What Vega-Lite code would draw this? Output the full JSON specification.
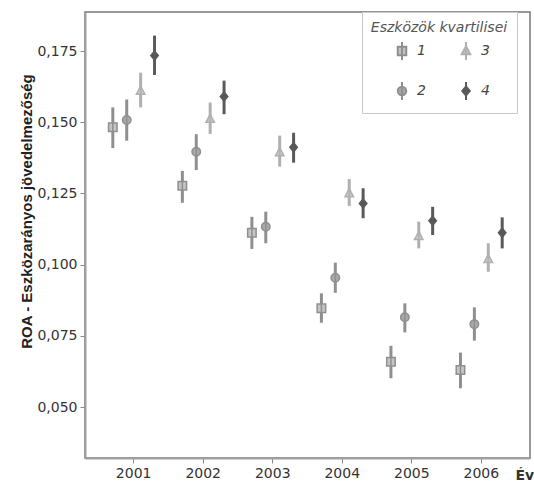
{
  "$schema": "https://vega.github.io/schema/vega-lite/v6.json",
  "width": 445,
  "height": 446,
  "autosize": {"type": "none"},
  "padding": {"left": 85, "top": 12, "right": 4, "bottom": 24},
  "background": "white",
  "config": {
    "view": {"stroke": "#777", "strokeWidth": 1.5},
    "font": "DejaVu Sans",
    "legend": {
      "orient": "none",
      "legendX": 277,
      "legendY": 0,
      "columns": 2,
      "fillColor": "white",
      "strokeColor": "#c8c8c8",
      "padding": 9,
      "titleFontStyle": "italic",
      "titleFontWeight": "normal",
      "titleFontSize": 14,
      "titleColor": "#555",
      "titleAnchor": "middle",
      "titlePadding": 9,
      "labelFontStyle": "italic",
      "labelFontSize": 14,
      "labelColor": "#444",
      "symbolSize": 100,
      "symbolStrokeWidth": 2,
      "columnPadding": 27,
      "rowPadding": 14,
      "labelOffset": 8,
      "symbolOffset": 6
    }
  },
  "data": {
    "values": [
      {"year": "2001", "q": "1", "mean": 0.1482, "lo": 0.1409, "hi": 0.1552},
      {"year": "2001", "q": "2", "mean": 0.1508, "lo": 0.1435, "hi": 0.158},
      {"year": "2001", "q": "3", "mean": 0.161, "lo": 0.1552, "hi": 0.1674},
      {"year": "2001", "q": "4", "mean": 0.1734, "lo": 0.1666, "hi": 0.1804},
      {"year": "2002", "q": "1", "mean": 0.1277, "lo": 0.1217, "hi": 0.1329},
      {"year": "2002", "q": "2", "mean": 0.1396, "lo": 0.1332, "hi": 0.1458},
      {"year": "2002", "q": "3", "mean": 0.1511, "lo": 0.1459, "hi": 0.1569},
      {"year": "2002", "q": "4", "mean": 0.159, "lo": 0.1528, "hi": 0.1646},
      {"year": "2003", "q": "1", "mean": 0.1112, "lo": 0.1055, "hi": 0.1168},
      {"year": "2003", "q": "2", "mean": 0.1133, "lo": 0.1075, "hi": 0.1186},
      {"year": "2003", "q": "3", "mean": 0.1394, "lo": 0.1344, "hi": 0.1453},
      {"year": "2003", "q": "4", "mean": 0.1412, "lo": 0.1358, "hi": 0.1463},
      {"year": "2004", "q": "1", "mean": 0.0847, "lo": 0.0796, "hi": 0.0899},
      {"year": "2004", "q": "2", "mean": 0.0954, "lo": 0.0901, "hi": 0.1007},
      {"year": "2004", "q": "3", "mean": 0.125, "lo": 0.1206, "hi": 0.1301},
      {"year": "2004", "q": "4", "mean": 0.1215, "lo": 0.1163, "hi": 0.1268},
      {"year": "2005", "q": "1", "mean": 0.0659, "lo": 0.0601, "hi": 0.0715},
      {"year": "2005", "q": "2", "mean": 0.0815, "lo": 0.0762, "hi": 0.0864},
      {"year": "2005", "q": "3", "mean": 0.11, "lo": 0.1057, "hi": 0.1151},
      {"year": "2005", "q": "4", "mean": 0.1154, "lo": 0.1104, "hi": 0.1203},
      {"year": "2006", "q": "1", "mean": 0.063, "lo": 0.0566, "hi": 0.0691},
      {"year": "2006", "q": "2", "mean": 0.0791, "lo": 0.0733, "hi": 0.085},
      {"year": "2006", "q": "3", "mean": 0.1019, "lo": 0.0975, "hi": 0.1075},
      {"year": "2006", "q": "4", "mean": 0.1112, "lo": 0.1057, "hi": 0.1166}
    ]
  },
  "encoding": {
    "x": {
      "field": "year",
      "type": "ordinal",
      "scale": {"paddingInner": 0, "paddingOuter": 0.2},
      "axis": {
        "labelAngle": 0,
        "title": "Év",
        "titleAngle": 0,
        "titleX": 430,
        "titleY": 17,
        "titleAlign": "left",
        "titleBaseline": "middle",
        "titleFontSize": 14,
        "titleFontWeight": "bold",
        "titleColor": "#333",
        "labelFontSize": 14,
        "labelColor": "#333",
        "labelPadding": 3,
        "domainColor": "#a0a0a0",
        "domainWidth": 2,
        "tickColor": "#888",
        "tickSize": 5,
        "grid": false
      }
    },
    "xOffset": {
      "field": "q",
      "type": "nominal",
      "scale": {"domain": ["1", "2", "3", "4"], "paddingInner": 0, "paddingOuter": 0.5}
    }
  },
  "layer": [
    {
      "mark": {"type": "rule", "strokeWidth": 3},
      "encoding": {
        "y": {
          "field": "lo",
          "type": "quantitative",
          "scale": {"domain": [0.0321, 0.1887], "nice": false, "zero": false},
          "axis": {
            "values": [0.05, 0.075, 0.1, 0.125, 0.15, 0.175],
            "labelExpr": "replace(format(datum.value, '.3f'), '.', ',')",
            "title": "ROA - Eszközarányos jövedelmezőség",
            "titleFont": "Liberation Sans",
            "titleFontSize": 15,
            "titleFontWeight": "bold",
            "titleColor": "#222",
            "titleX": -59,
            "titleY": 199,
            "titleAngle": 270,
            "titleAlign": "center",
            "titleBaseline": "middle",
            "labelFontSize": 14,
            "labelColor": "#333",
            "labelPadding": 3,
            "domainColor": "#a0a0a0",
            "domainWidth": 2,
            "tickColor": "#888",
            "tickSize": 5,
            "grid": false
          }
        },
        "y2": {"field": "hi"},
        "stroke": {
          "field": "q",
          "type": "nominal",
          "scale": {"domain": ["1", "2", "3", "4"], "range": ["#8f8f8f", "#909090", "#b0b0b0", "#5a5a5a"]},
          "legend": {"title": "Eszközök kvartilisei"}
        }
      }
    },
    {
      "mark": {"type": "point", "size": 100, "strokeWidth": 1.5, "opacity": 1, "filled": true},
      "encoding": {
        "y": {"field": "mean", "type": "quantitative"},
        "stroke": {
          "field": "q",
          "type": "nominal",
          "scale": {"domain": ["1", "2", "3", "4"], "range": ["#8f8f8f", "#909090", "#b0b0b0", "#5a5a5a"]},
          "legend": {"title": "Eszközök kvartilisei"}
        },
        "fill": {
          "field": "q",
          "type": "nominal",
          "scale": {"domain": ["1", "2", "3", "4"], "range": ["#c4c4c4", "#a8a8a8", "#c8c8c8", "#555555"]},
          "legend": {"title": "Eszközök kvartilisei"}
        },
        "shape": {
          "field": "q",
          "type": "nominal",
          "scale": {
            "domain": ["1", "2", "3", "4"],
            "range": [
              "M0,-1.8V1.8M-0.85,-0.85H0.85V0.85H-0.85Z",
              "M0,-1.8V1.8M0.85,0A0.85,0.85,0,1,1,-0.85,0A0.85,0.85,0,1,1,0.85,0Z",
              "M0,-1.8V1.8M0,-0.95L0.85,0.65H-0.85Z",
              "M0,-1.8V1.8M0,-0.9L0.75,0L0,0.9L-0.75,0Z"
            ]
          },
          "legend": {"title": "Eszközök kvartilisei"}
        }
      }
    }
  ]
}
